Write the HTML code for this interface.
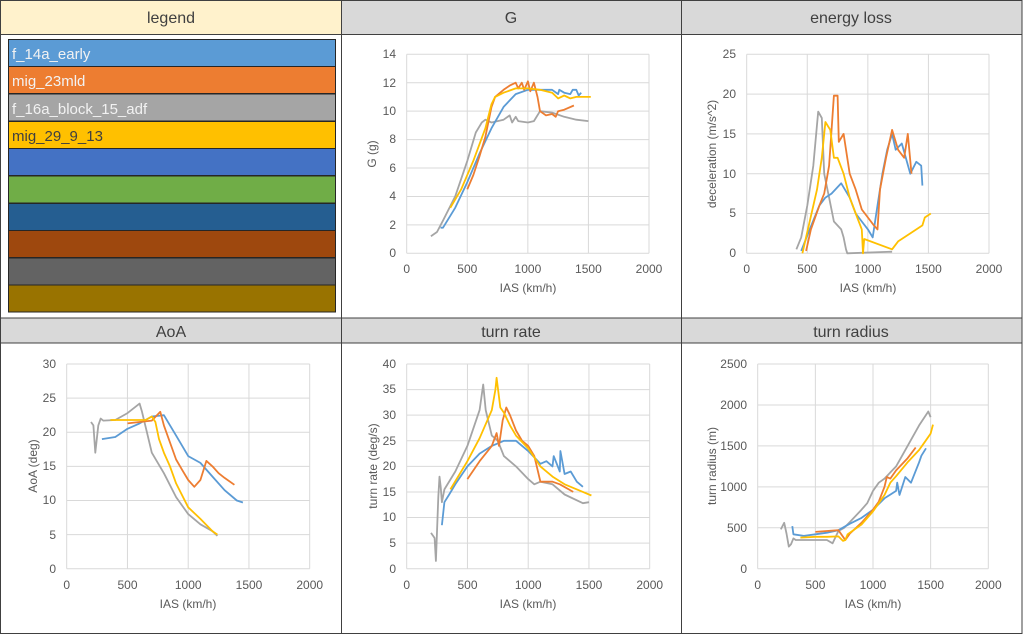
<!DOCTYPE html>
<html><head><meta charset="utf-8"><style>
html,body{margin:0;padding:0;background:#fff;}
svg{display:block;font-family:"Liberation Sans",sans-serif;}
.t{font-size:12px;fill:#595959;}
.h{font-size:16px;fill:#404040;text-anchor:middle;}
.lg{font-size:15px;}
</style></head><body>
<svg id="s" width="1024" height="636" viewBox="0 0 1024 636" xmlns="http://www.w3.org/2000/svg">
<rect x="0" y="0" width="1024" height="636" fill="#fff"/>
<rect x="0.5" y="0.5" width="340.5" height="34" fill="#fff2cc"/>
<rect x="341" y="0.5" width="340" height="34" fill="#d9d9d9"/>
<rect x="681" y="0.5" width="341" height="34" fill="#d9d9d9"/>
<rect x="0.5" y="318" width="1021.5" height="25" fill="#d9d9d9"/>
<g stroke="#404040" stroke-width="1" fill="none">
<rect x="0.5" y="0.5" width="1021.5" height="633"/>
<line x1="0" y1="34.5" x2="1022" y2="34.5"/>
<line x1="0" y1="318" x2="1022" y2="318"/>
<line x1="0" y1="343" x2="1022" y2="343"/>
<line x1="341.5" y1="0" x2="341.5" y2="634"/>
<line x1="681.5" y1="0" x2="681.5" y2="634"/>
</g>
<text class="h" x="171" y="23" font-size="15">legend</text>
<text class="h" x="511" y="23">G</text>
<text class="h" x="851" y="23">energy loss</text>
<text class="h" x="171" y="337">AoA</text>
<text class="h" x="511" y="337">turn rate</text>
<text class="h" x="851" y="337">turn radius</text>
<g stroke="#262626" stroke-width="1">
<rect x="8.5" y="39.5" width="327" height="27" fill="#5b9bd5"/>
<rect x="8.5" y="66.5" width="327" height="27" fill="#ed7d31"/>
<rect x="8.5" y="94" width="327" height="27" fill="#a5a5a5"/>
<rect x="8.5" y="121.5" width="327" height="27" fill="#ffc000"/>
<rect x="8.5" y="148.5" width="327" height="27" fill="#4472c4"/>
<rect x="8.5" y="176" width="327" height="27" fill="#70ad47"/>
<rect x="8.5" y="203.5" width="327" height="27" fill="#255e91"/>
<rect x="8.5" y="230.5" width="327" height="27" fill="#9e480e"/>
<rect x="8.5" y="258" width="327" height="27" fill="#636363"/>
<rect x="8.5" y="285" width="327" height="27" fill="#997300"/>
</g>
<text class="lg" x="12" y="59" fill="#f2f2f2">f_14a_early</text>
<text class="lg" x="12" y="86" fill="#f2f2f2">mig_23mld</text>
<text class="lg" x="12" y="114" fill="#f2f2f2">f_16a_block_15_adf</text>
<text class="lg" x="12" y="141" fill="#404040">mig_29_9_13</text>
<g id="grids"></g>
<g id="series"></g>
<g class="t" text-anchor="end">
<text x="396" y="257">0</text><text x="396" y="229">2</text><text x="396" y="200">4</text><text x="396" y="172">6</text><text x="396" y="143">8</text><text x="396" y="115">10</text><text x="396" y="87">12</text><text x="396" y="58">14</text>
<text x="736" y="257">0</text><text x="736" y="217">5</text><text x="736" y="178">10</text><text x="736" y="138">15</text><text x="736" y="98">20</text><text x="736" y="58">25</text>
<text x="56" y="573">0</text><text x="56" y="539">5</text><text x="56" y="504">10</text><text x="56" y="470">15</text><text x="56" y="436">20</text><text x="56" y="402">25</text><text x="56" y="368">30</text>
<text x="396" y="573">0</text><text x="396" y="547">5</text><text x="396" y="521">10</text><text x="396" y="496">15</text><text x="396" y="470">20</text><text x="396" y="445">25</text><text x="396" y="419">30</text><text x="396" y="393">35</text><text x="396" y="368">40</text>
<text x="747" y="573">0</text><text x="747" y="532">500</text><text x="747" y="491">1000</text><text x="747" y="450">1500</text><text x="747" y="409">2000</text><text x="747" y="368">2500</text>
</g>
<g class="t" text-anchor="middle">
<text x="406.7" y="273">0</text><text x="467.3" y="273">500</text><text x="527.9" y="273">1000</text><text x="588.4" y="273">1500</text><text x="649" y="273">2000</text>
<text x="746.7" y="273">0</text><text x="807.3" y="273">500</text><text x="867.9" y="273">1000</text><text x="928.4" y="273">1500</text><text x="989" y="273">2000</text>
<text x="66.7" y="589">0</text><text x="127.5" y="589">500</text><text x="188.2" y="589">1000</text><text x="249" y="589">1500</text><text x="309.7" y="589">2000</text>
<text x="406.7" y="589">0</text><text x="467.5" y="589">500</text><text x="528.2" y="589">1000</text><text x="589" y="589">1500</text><text x="649.7" y="589">2000</text>
<text x="757.7" y="589">0</text><text x="815.4" y="589">500</text><text x="873" y="589">1000</text><text x="930.7" y="589">1500</text><text x="988.3" y="589">2000</text>
<text x="528" y="292">IAS (km/h)</text>
<text x="868" y="292">IAS (km/h)</text>
<text x="188" y="608">IAS (km/h)</text>
<text x="528" y="608">IAS (km/h)</text>
<text x="873" y="608">IAS (km/h)</text>
<text transform="translate(376,154) rotate(-90)">G (g)</text>
<text transform="translate(716,154) rotate(-90)">deceleration (m/s^2)</text>
<text transform="translate(37,466) rotate(-90)">AoA (deg)</text>
<text transform="translate(377,466) rotate(-90)">turn rate (deg/s)</text>
<text transform="translate(716,466) rotate(-90)">turn radius (m)</text>
</g>
</svg>
<script>
var NS="http://www.w3.org/2000/svg";
var C=["#5b9bd5","#ed7d31","#a5a5a5","#ffc000"];
var charts=[
{x0:406.7,x1:649,y0:253.3,y1:54.3,ym:14,st:2,s:[
[[280,1.8],[300,1.8],[400,3.2],[500,5],[600,7],[700,8.8],[800,10.3],[900,11.2],[1000,11.5],[1100,11.5],[1200,11.5],[1250,11.2],[1260,11.5],[1300,11.3],[1350,11.2],[1370,11.5],[1400,11.5],[1420,11.1],[1440,11.3]],
[[500,4.5],[550,5.5],[600,6.8],[650,8.2],[700,10.3],[730,11],[800,11.5],[850,11.8],[900,12],[920,11.6],[950,12],[970,11.5],[1000,12.1],[1020,11.4],[1050,12],[1080,11],[1100,10],[1150,9.7],[1200,9.8],[1230,9.6],[1250,10],[1300,10.1],[1380,10.4]],
[[200,1.2],[250,1.5],[300,2.3],[400,4],[500,6.5],[570,8.5],[620,9.2],[650,9.4],[700,9.2],[800,9.4],[850,9.7],[870,9.2],[900,9.6],[920,9.3],[1000,9.2],[1050,9.3],[1100,10],[1200,9.9],[1300,9.6],[1400,9.4],[1500,9.3]],
[[360,3.2],[450,4.5],[550,6.5],[650,8.8],[700,10.5],[730,11],[800,11.3],[900,11.6],[1000,11.6],[1100,11.5],[1200,11.3],[1250,10.9],[1300,11.1],[1350,10.9],[1400,11],[1520,11]]]},
{x0:746.7,x1:989,y0:253.3,y1:54.3,ym:25,st:5,s:[
[[450,0.3],[520,3],[600,6],[650,7],[700,7.5],[780,8.8],[850,7],[900,5],[950,4],[1000,3],[1040,2],[1080,6],[1120,10],[1160,13],[1200,15],[1230,13],[1280,13.8],[1350,10],[1400,11.5],[1440,11],[1450,8.5]],
[[490,0.3],[530,3],[600,6],[640,7.5],[680,11],[720,19.8],[750,19.8],[760,14],[800,15],[850,10],[900,8],[950,5.5],[1000,4.5],[1050,3.5],[1080,3],[1100,8],[1150,12],[1200,15.5],[1250,13],[1300,12],[1330,15],[1360,10]],
[[410,0.5],[450,2],[500,6],[550,11],[590,17.8],[620,17],[640,10],[680,7],[720,4],[780,3],[800,2],[820,0.5],[830,0],[1200,0.2]],
[[460,0],[520,4],[580,8],[620,12],[650,16.5],[690,15.5],[720,12],[750,12],[800,10],[850,7],[900,5],[950,3],[960,0],[970,1.8],[1200,0.5],[1250,1.5],[1350,2.5],[1450,3.5],[1470,4.5],[1520,5]]]},
{x0:66.7,x1:309.7,y0:568.7,y1:364,ym:30,st:5,s:[
[[290,19],[400,19.3],[500,20.5],[600,21.3],[700,22.3],[800,22.5],[900,19.5],[1000,16.5],[1100,15.5],[1200,13.5],[1300,11.5],[1400,10],[1450,9.7]],
[[500,21.3],[600,21.5],[700,21.7],[770,23],[800,21],[850,18.5],[900,16],[950,14.5],[1000,13],[1050,12],[1100,13],[1150,15.8],[1200,15],[1250,14],[1300,13.3],[1380,12.3]],
[[200,21.5],[220,21],[235,17],[260,21],[280,22],[300,21.7],[400,21.8],[500,22.8],[600,24.2],[620,23],[660,20],[700,17],[800,14],[900,10.5],[1000,8],[1100,6.5],[1200,5.5],[1240,4.8]],
[[360,21.8],[500,21.8],[650,21.8],[700,22.3],[730,21.5],[760,19],[800,17],[850,15],[900,12.5],[1000,9],[1100,7.3],[1200,5.5],[1240,5]]]},
{x0:406.7,x1:649.7,y0:568.7,y1:364,ym:40,st:5,s:[
[[290,8.5],[310,13],[350,14.5],[400,16.5],[500,20],[600,22.5],[700,24],[800,25],[900,25],[1000,23],[1100,20.5],[1150,21],[1200,20],[1210,22],[1260,19],[1265,23],[1300,18.5],[1350,19],[1400,17],[1450,16]],
[[500,17.5],[600,21],[700,24],[740,26.5],[760,24],[790,29],[820,31.5],[850,30],[900,27],[950,25],[1000,24],[1050,22],[1100,17],[1150,17],[1200,17],[1260,16.5],[1370,15]],
[[200,7],[230,6],[240,1.5],[260,14],[270,18],[280,16],[290,13],[310,15.5],[400,19],[500,24],[600,31],[630,36],[650,31],[700,26],[750,25],[800,22],[900,20],[1000,17.5],[1050,16.5],[1100,17],[1200,16.5],[1300,14.5],[1450,12.8],[1500,13]],
[[360,15.5],[500,21],[600,25.5],[700,31],[730,35],[740,37.3],[770,31.5],[800,30.5],[850,28],[900,26],[1000,23.5],[1100,20],[1200,18],[1300,16.5],[1450,15],[1520,14.3]]]},
{x0:757.7,x1:988.3,y0:568.7,y1:364,ym:2500,st:500,s:[
[[300,520],[310,420],[400,400],[500,420],[600,440],[700,470],[800,550],[900,620],[1000,720],[1100,860],[1200,950],[1210,1050],[1230,900],[1280,1120],[1330,1050],[1400,1300],[1420,1380],[1460,1470]],
[[500,450],[600,460],[700,470],[760,350],[800,430],[900,560],[1000,720],[1050,820],[1100,1000],[1120,1120],[1150,1100],[1200,1200],[1300,1350],[1370,1480]],
[[200,480],[230,560],[250,430],[270,270],[290,300],[310,370],[330,350],[600,350],[650,310],[700,460],[750,500],[800,570],[900,720],[950,800],[1000,950],[1050,1050],[1100,1100],[1200,1250],[1300,1500],[1400,1750],[1480,1920],[1500,1850]],
[[370,380],[500,390],[600,390],[700,395],[740,340],[760,350],[780,420],[900,540],[1000,700],[1100,900],[1150,1050],[1200,1130],[1300,1300],[1400,1450],[1450,1550],[1500,1650],[1520,1760]]]}
];
var G=document.getElementById("grids"),S=document.getElementById("series");
function el(n,a,p){var e=document.createElementNS(NS,n);for(var k in a)e.setAttribute(k,a[k]);p.appendChild(e);}
charts.forEach(function(c){
 for(var v=0;v<=c.ym+1e-9;v+=c.st){var y=c.y0-(c.y0-c.y1)*v/c.ym;el("line",{x1:c.x0,x2:c.x1,y1:y,y2:y,stroke:"#d9d9d9","stroke-width":1},G);}
 for(var i=0;i<=4;i++){var x=c.x0+(c.x1-c.x0)*i/4;el("line",{x1:x,x2:x,y1:c.y0,y2:c.y1,stroke:"#d9d9d9","stroke-width":1},G);}
 var order=[2,0,1,3];
 order.forEach(function(k){var pts=c.s[k].map(function(p){return (c.x0+(c.x1-c.x0)*p[0]/2000).toFixed(1)+","+(c.y0-(c.y0-c.y1)*p[1]/c.ym).toFixed(1);}).join(" ");
 el("polyline",{points:pts,fill:"none",stroke:C[k],"stroke-width":1.8,"stroke-linejoin":"round"},S);});
});
</script>
</body></html>
